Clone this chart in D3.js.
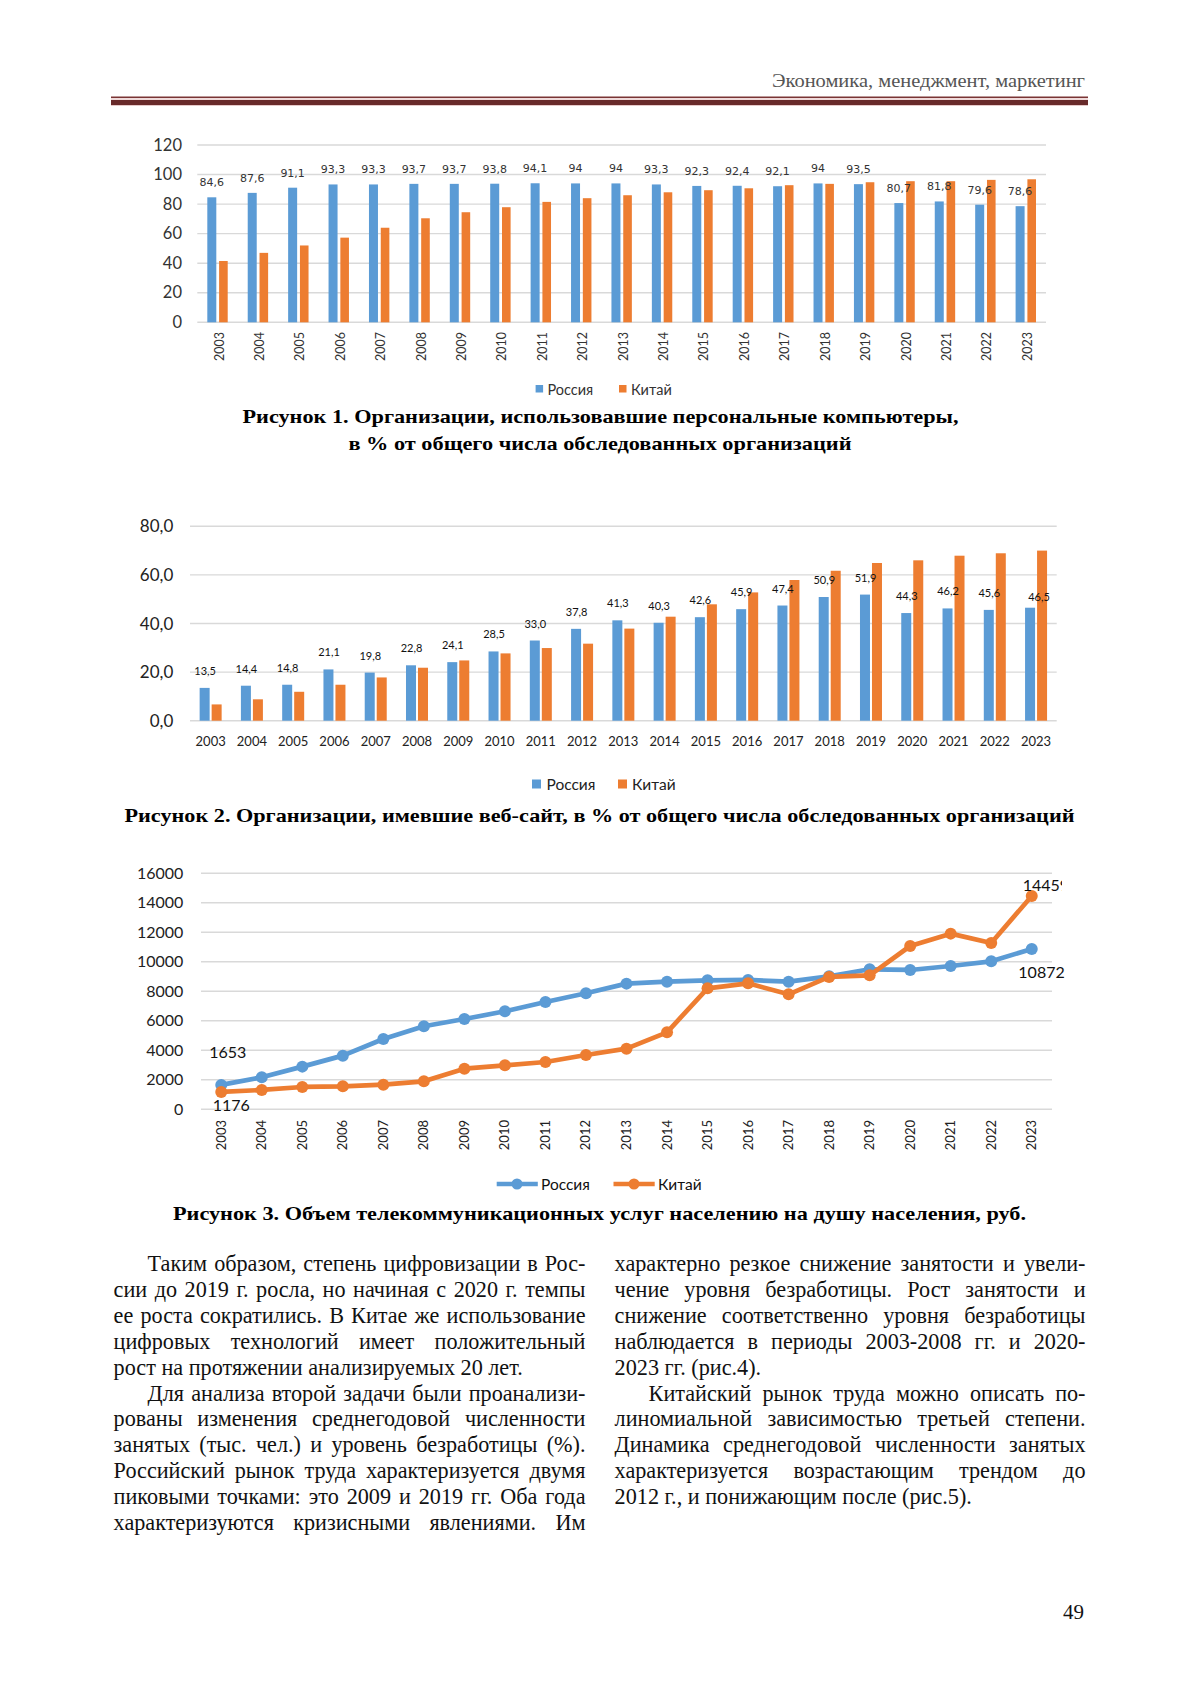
<!DOCTYPE html>
<html><head><meta charset="utf-8">
<script src="https://cdn.jsdelivr.net/npm/d3@7"></script>
<style>body{margin:0;background:#fff}svg{display:block}</style>
</head><body>
<script>
// ---------- DATA ----------
const years = ["2003","2004","2005","2006","2007","2008","2009","2010","2011","2012","2013","2014","2015","2016","2017","2018","2019","2020","2021","2022","2023"];
const seriesNames = ["Россия","Китай"];
// Fig.1 PCs, % of organizations
const pcRussia = [84.6,87.6,91.1,93.3,93.3,93.7,93.7,93.8,94.1,94,94,93.3,92.3,92.4,92.1,94,93.5,80.7,81.8,79.6,78.6];
const pcChina  = [41.5,47,52,57.3,64,70.4,74.5,77.9,81.5,84,86,88,89.4,90.7,92.8,93.7,94.8,95.5,95.5,96.4,96.8];
const pcTicks = [0,20,40,60,80,100,120];
// Fig.2 websites, % of organizations
const webRussia = [13.5,14.4,14.8,21.1,19.8,22.8,24.1,28.5,33.0,37.8,41.3,40.3,42.6,45.9,47.4,50.9,51.9,44.3,46.2,45.6,46.5];
const webChina  = [6.7,8.8,11.9,14.8,17.8,21.8,24.8,27.7,29.9,31.7,37.9,42.8,47.9,52.8,57.9,61.7,64.9,66.0,67.9,68.9,70.0];
const webTicks = [0,20,40,60,80];
// Fig.3 telecom services per capita, rub.
const telRussia = [1653,2170,2893,3638,4768,5627,6124,6644,7277,7864,8520,8655,8746,8768,8655,9017,9492,9446,9717,10034,10872];
const telChina  = [1176,1311,1514,1559,1672,1898,2757,2983,3209,3684,4113,5220,8203,8542,7797,8972,9085,11073,11910,11277,14459];
const telTicks = [0,2000,4000,6000,8000,10000,12000,14000,16000];

const C_BLUE = "#5b9bd5", C_ORANGE = "#ed7d31", C_GRID = "#d9d9d9";
const SANS = "Lato, 'Open Sans', sans-serif", SERIF = "'Liberation Serif', 'DejaVu Serif', serif";

const svg = d3.select("body").append("svg").attr("width",1200).attr("height",1697);
svg.append("rect").attr("width",1200).attr("height",1697).attr("fill","#fff");

// ---------- HEADER ----------
svg.append("text").attr("x",1085).attr("y",87).attr("text-anchor","end")
  .attr("font-family",SERIF).attr("font-size",18).attr("fill","#555")
  .attr("textLength",313).attr("lengthAdjust","spacingAndGlyphs")
  .text("Экономика, менеджмент, маркетинг");
svg.append("rect").attr("x",111).attr("y",96.5).attr("width",977).attr("height",1.6).attr("fill","#7a3434");
svg.append("rect").attr("x",111).attr("y",100).attr("width",977).attr("height",5).attr("fill","#682a2a");
svg.append("rect").attr("x",111).attr("y",105).attr("width",977).attr("height",1).attr("fill","#e6c9c9");
svg.append("rect").attr("x",111).attr("y",98.1).attr("width",977).attr("height",1.9).attr("fill","#efd9d9");

// ---------- FIG 1 ----------
(function(){
  const g = svg.append("g");
  const x = d3.scaleBand().domain(years).range([197.3,1046]);
  const y = d3.scaleLinear().domain([0,120]).range([322.3,145]);
  g.selectAll(".gl").data(pcTicks).join("line")
    .attr("x1",x.range()[0]).attr("x2",x.range()[1])
    .attr("y1",d=>y(d)).attr("y2",d=>y(d)).attr("stroke",C_GRID).attr("stroke-width",1.4);
  g.selectAll(".yt").data(pcTicks).join("text")
    .attr("x",182).attr("y",d=>y(d)+5.5).attr("text-anchor","end")
    .attr("font-family",SANS).attr("font-size",16.5).attr("fill","#333").text(d=>d);
  const cx = d=>x(d)+x.bandwidth()/2;
  g.selectAll(".br").data(years).join("rect")
    .attr("x",d=>cx(d)-10.2).attr("width",9)
    .attr("y",(d,i)=>y(pcRussia[i])).attr("height",(d,i)=>y(0)-y(pcRussia[i])).attr("fill",C_BLUE);
  g.selectAll(".bc").data(years).join("rect")
    .attr("x",d=>cx(d)+1.6).attr("width",8.6)
    .attr("y",(d,i)=>y(pcChina[i])).attr("height",(d,i)=>y(0)-y(pcChina[i])).attr("fill",C_ORANGE);
  g.selectAll(".lb").data(years).join("text")
    .attr("x",d=>cx(d)-5.7).attr("y",(d,i)=>y(pcRussia[i])-11).attr("text-anchor","middle")
    .attr("font-family","'DejaVu Sans', sans-serif").attr("font-size",11).attr("fill","#333")
    .text((d,i)=>String(pcRussia[i]).replace(".",","));
  g.selectAll(".xl").data(years).join("text")
    .attr("transform",d=>`translate(${cx(d)+6},332) rotate(-90)`).attr("text-anchor","end")
    .attr("font-family",SANS).attr("font-size",12.5).attr("fill","#333").text(d=>d);
  // legend
  const lg = g.append("g");
  lg.append("rect").attr("x",535.6).attr("y",385).attr("width",7.5).attr("height",7.5).attr("fill",C_BLUE);
  lg.append("text").attr("x",547.5).attr("y",394.5).attr("font-family",SANS).attr("font-size",14.5).attr("fill","#333").text(seriesNames[0]);
  lg.append("rect").attr("x",619).attr("y",385).attr("width",7.5).attr("height",7.5).attr("fill",C_ORANGE);
  lg.append("text").attr("x",631).attr("y",394.5).attr("font-family",SANS).attr("font-size",14.5).attr("fill","#333").text(seriesNames[1]);
  // caption
  g.append("text").attr("x",600.5).attr("y",423).attr("text-anchor","middle").attr("font-family",SERIF)
    .attr("font-weight","bold").attr("font-size",19.5).attr("textLength",716).attr("lengthAdjust","spacingAndGlyphs")
    .text("Рисунок 1. Организации, использовавшие персональные компьютеры,");
  g.append("text").attr("x",600).attr("y",450).attr("text-anchor","middle").attr("font-family",SERIF)
    .attr("font-weight","bold").attr("font-size",19.5).attr("textLength",503).attr("lengthAdjust","spacingAndGlyphs")
    .text("в % от общего числа обследованных организаций");
})();

// ---------- FIG 2 ----------
(function(){
  const g = svg.append("g");
  const x = d3.scaleBand().domain(years).range([190,1056.7]);
  const y = d3.scaleLinear().domain([0,80]).range([720.7,526.3]);
  const f1 = v=>v.toFixed(1).replace(".",",");
  g.selectAll(".gl").data(webTicks).join("line")
    .attr("x1",x.range()[0]).attr("x2",x.range()[1])
    .attr("y1",d=>y(d)).attr("y2",d=>y(d)).attr("stroke",C_GRID).attr("stroke-width",1.4);
  g.selectAll(".yt").data(webTicks).join("text")
    .attr("x",173.3).attr("y",d=>y(d)+6).attr("text-anchor","end")
    .attr("font-family",SANS).attr("font-size",17).attr("fill","#222").text(f1);
  const cx = d=>x(d)+x.bandwidth()/2;
  g.selectAll(".br").data(years).join("rect")
    .attr("x",d=>cx(d)-11).attr("width",10)
    .attr("y",(d,i)=>y(webRussia[i])).attr("height",(d,i)=>y(0)-y(webRussia[i])).attr("fill",C_BLUE);
  g.selectAll(".bc").data(years).join("rect")
    .attr("x",d=>cx(d)+1).attr("width",10)
    .attr("y",(d,i)=>y(webChina[i])).attr("height",(d,i)=>y(0)-y(webChina[i])).attr("fill",C_ORANGE);
  const last = years.length-1;
  g.selectAll(".lb").data(years).join("text")
    .attr("x",(d,i)=>cx(d)-5.5+(i===last?8.5:0))
    .attr("y",(d,i)=>y(webRussia[i])-13+(i===last?6:0)).attr("text-anchor","middle")
    .attr("font-family",SANS).attr("font-size",11).attr("fill","#111")
    .text((d,i)=>f1(webRussia[i]));
  g.selectAll(".xl").data(years).join("text")
    .attr("x",cx).attr("y",746).attr("text-anchor","middle")
    .attr("font-family",SANS).attr("font-size",13).attr("fill","#222").text(d=>d);
  const lg = g.append("g");
  lg.append("rect").attr("x",532).attr("y",779.5).attr("width",9).attr("height",9).attr("fill",C_BLUE);
  lg.append("text").attr("x",546.5).attr("y",790).attr("font-family",SANS).attr("font-size",15.5).attr("fill","#222").text(seriesNames[0]);
  lg.append("rect").attr("x",618).attr("y",779.5).attr("width",9).attr("height",9).attr("fill",C_ORANGE);
  lg.append("text").attr("x",632).attr("y",790).attr("font-family",SANS).attr("font-size",15.5).attr("fill","#222").text(seriesNames[1]);
  g.append("text").attr("x",599.5).attr("y",821.5).attr("text-anchor","middle").attr("font-family",SERIF)
    .attr("font-weight","bold").attr("font-size",19.5).attr("textLength",950).attr("lengthAdjust","spacingAndGlyphs")
    .text("Рисунок 2. Организации, имевшие веб-сайт, в % от общего числа обследованных организаций");
})();

// ---------- FIG 3 ----------
(function(){
  const g = svg.append("g");
  const x = d3.scalePoint().domain(years).range([221.25,1031.75]);
  const y = d3.scaleLinear().domain([0,16000]).range([1109.3,873.3]);
  g.selectAll(".gl").data(telTicks).join("line")
    .attr("x1",201).attr("x2",1052)
    .attr("y1",d=>y(d)).attr("y2",d=>y(d)).attr("stroke",C_GRID).attr("stroke-width",1.4);
  g.selectAll(".yt").data(telTicks).join("text")
    .attr("x",183.3).attr("y",d=>y(d)+5.5).attr("text-anchor","end")
    .attr("font-family",SANS).attr("font-size",16).attr("fill","#222").text(d=>d);
  g.selectAll(".xl").data(years).join("text")
    .attr("transform",d=>`translate(${x(d)+4.5},1120) rotate(-90)`).attr("text-anchor","end")
    .attr("font-family",SANS).attr("font-size",13).attr("fill","#222").text(d=>d);
  const line = d3.line().x((d,i)=>x(years[i])).y(d=>y(d));
  [[telRussia,C_BLUE],[telChina,C_ORANGE]].forEach(([vals,col])=>{
    g.append("path").attr("d",line(vals)).attr("fill","none").attr("stroke",col)
      .attr("stroke-width",4.7).attr("stroke-linejoin","round");
    g.selectAll(null).data(vals).join("circle")
      .attr("cx",(d,i)=>x(years[i])).attr("cy",d=>y(d)).attr("r",6).attr("fill",col);
  });
  svg.append("clipPath").attr("id","clip3").append("rect").attr("x",0).attr("y",800).attr("width",1062).attr("height",400);
  const L = g.append("g").attr("font-family",SANS).attr("font-size",16).attr("fill","#111");
  const n = years.length-1;
  L.append("text").attr("x",x(years[0])-12).attr("y",y(telRussia[0])-27).text(telRussia[0]);
  L.append("text").attr("x",x(years[0])-8.5).attr("y",y(telChina[0])+19).text(telChina[0]);
  L.append("text").attr("clip-path","url(#clip3)").attr("x",x(years[n])-9).attr("y",y(telChina[n])-5).text(telChina[n]);
  L.append("text").attr("x",x(years[n])-13.4).attr("y",y(telRussia[n])+29).text(telRussia[n]);
  const lg = g.append("g");
  [[496.7,537.8,517,541,C_BLUE,seriesNames[0]],[613.5,654.7,634,658,C_ORANGE,seriesNames[1]]].forEach(([a,b,m,t,col,name])=>{
    lg.append("line").attr("x1",a).attr("x2",b).attr("y1",1184).attr("y2",1184).attr("stroke",col).attr("stroke-width",4.5);
    lg.append("circle").attr("cx",m).attr("cy",1184).attr("r",5.5).attr("fill",col);
    lg.append("text").attr("x",t).attr("y",1189.5).attr("font-family",SANS).attr("font-size",15.5).attr("fill","#111").text(name);
  });
  g.append("text").attr("x",599.5).attr("y",1219.5).attr("text-anchor","middle").attr("font-family",SERIF)
    .attr("font-weight","bold").attr("font-size",19.5).attr("textLength",853).attr("lengthAdjust","spacingAndGlyphs")
    .text("Рисунок 3. Объем телекоммуникационных услуг населению на душу населения, руб.");
})();

// ---------- BODY TEXT ----------
const leftCol = [
  ["Таким образом, степень цифровизации в Рос-",1,1],
  ["сии до 2019 г. росла, но начиная с 2020 г. темпы",0,1],
  ["ее роста сократились. В Китае же использование",0,1],
  ["цифровых технологий имеет положительный",0,1],
  ["рост на протяжении анализируемых 20 лет.",0,0],
  ["Для анализа второй задачи были проанализи-",1,1],
  ["рованы изменения среднегодовой численности",0,1],
  ["занятых (тыс. чел.) и уровень безработицы (%).",0,1],
  ["Российский рынок труда характеризуется двумя",0,1],
  ["пиковыми точками: это 2009 и 2019 гг. Оба года",0,1],
  ["характеризуются кризисными явлениями. Им",0,1]
];
const rightCol = [
  ["характерно резкое снижение занятости и увели-",0,1],
  ["чение уровня безработицы. Рост занятости и",0,1],
  ["снижение соответственно уровня безработицы",0,1],
  ["наблюдается в периоды 2003-2008 гг. и 2020-",0,1],
  ["2023 гг. (рис.4).",0,0],
  ["Китайский рынок труда можно описать по-",1,1],
  ["линомиальной зависимостью третьей степени.",0,1],
  ["Динамика среднегодовой численности занятых",0,1],
  ["характеризуется возрастающим трендом до",0,1],
  ["2012 г., и понижающим после (рис.5).",0,0]
];
const bodyG = svg.append("g").attr("font-family",SERIF).attr("font-size",22.2).attr("fill","#111");
function measure(s){const tmp=bodyG.append("text").text(s);const w=tmp.node().getComputedTextLength();tmp.remove();return w;}
function drawCol(lines,x0,x1){
  const spaceW = measure("a a") - measure("aa");
  lines.forEach(([t,ind,just],i)=>{
    const yy = 1271 + i*25.9;
    const xs = x0 + (ind?34:0);
    const words = t.split(" ");
    const widths = words.map(measure);
    let gap = spaceW;
    const sum = d3.sum(widths);
    if (just && words.length>1) gap = (x1 - xs - sum)/(words.length-1);
    const txt = bodyG.append("text").attr("y",yy);
    if (gap < 2) {
      txt.attr("x",xs).attr("textLength",x1-xs).attr("lengthAdjust","spacingAndGlyphs").text(t);
      return;
    }
    let cur = xs;
    words.forEach((w,k)=>{ txt.append("tspan").attr("x",cur).text(w); cur += widths[k]+gap; });
  });
}
drawCol(leftCol,113.6,585.5);
drawCol(rightCol,614.6,1085.5);

// page number
svg.append("text").attr("x",1084).attr("y",1619).attr("text-anchor","end")
  .attr("font-family",SERIF).attr("font-size",21).attr("fill","#111").text("49");
</script>
</body></html>
